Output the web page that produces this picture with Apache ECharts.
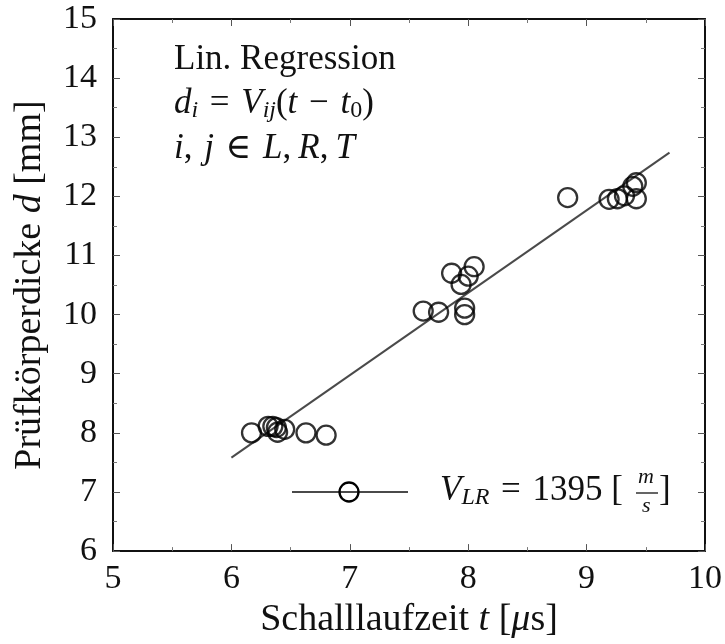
<!DOCTYPE html>
<html>
<head>
<meta charset="utf-8">
<script src="https://cdn.jsdelivr.net/npm/echarts@6/dist/echarts.min.js"></script>
<style>html,body{margin:0;padding:0;background:#fff;}#c{width:725px;height:644px;}</style>
</head>
<body>
<div id="c"></div>
<script>
// ---- data ----
const tValues = [6.17, 6.31, 6.35, 6.38, 6.39, 6.45, 6.63, 6.80,
                 7.62, 7.75, 7.97, 7.97, 7.86, 7.94, 8.00, 8.05,
                 8.84, 9.19, 9.26, 9.32, 9.42, 9.39, 9.42];
const dValues = [8.00, 8.11, 8.11, 8.09, 8.01, 8.06, 8.00, 7.96,
                 10.06, 10.04, 10.11, 10.00, 10.70, 10.51, 10.65, 10.81,
                 11.98, 11.95, 11.96, 12.01, 11.96, 12.17, 12.23];
const regT = [6.0, 9.7];
const regD = [7.58, 12.74];
const xTicks = [5, 6, 7, 8, 9, 10];
const yTicks = [6, 7, 8, 9, 10, 11, 12, 13, 14, 15];

const FONT = '"Liberation Serif", "DejaVu Serif", serif';
const black = '#111';

const scatterData = tValues.map((t, i) => [t, dValues[i]]);
const regData = regT.map((t, i) => [t, regD[i]]);

const chart = echarts.init(document.getElementById('c'), null, {renderer: 'canvas'});

const axisCommon = {
  type: 'value',
  interval: 1,
  axisLine: {show: true, onZero: false, lineStyle: {color: black, width: 2}},
  axisTick: {show: true, inside: true, length: 7, lineStyle: {color: '#555', width: 1}},
  minorTick: {show: true, splitNumber: 2, length: 4, lineStyle: {color: '#777', width: 1}},
  splitLine: {show: false}
};

const SP = '\u2004';   // three-per-em space
const TH = '\u2009';   // thin space
const mathRich = {
  n: {fontSize: 35, fontFamily: FONT, fill: black, lineHeight: 38},
  i: {fontSize: 35, fontFamily: FONT, fontStyle: 'italic', fill: black, lineHeight: 38},
  s: {fontSize: 24, fontFamily: FONT, fontStyle: 'italic', fill: black, lineHeight: 16, verticalAlign: 'bottom'},
  s0: {fontSize: 24, fontFamily: FONT, fill: black, lineHeight: 16, verticalAlign: 'bottom'}
};

const option = {
  animation: false,
  backgroundColor: '#fff',
  grid: {left: 113, right: 19, top: 19, bottom: 92, containLabel: false},
  xAxis: [
    Object.assign({}, axisCommon, {
      min: xTicks[0], max: xTicks[xTicks.length - 1], position: 'bottom',
      axisLabel: {fontSize: 34, fontFamily: FONT, color: black, margin: 11},
      name: '{n|Schalllaufzeit }{i|t}{n| [}{i|μ}{n|s]}',
      nameLocation: 'middle', nameGap: 43,
      nameTextStyle: {
        fontSize: 38, fontFamily: FONT, color: black,
        rich: {
          n: {fontSize: 38, fontFamily: FONT, color: black},
          i: {fontSize: 38, fontFamily: FONT, fontStyle: 'italic', color: black}
        }
      }
    }),
    Object.assign({}, axisCommon, {
      min: xTicks[0], max: xTicks[xTicks.length - 1], position: 'top',
      axisLabel: {show: false}
    })
  ],
  yAxis: [
    Object.assign({}, axisCommon, {
      min: yTicks[0], max: yTicks[yTicks.length - 1], position: 'left',
      axisLabel: {fontSize: 34, fontFamily: FONT, color: black, margin: 16},
      name: '{n|Prüfkörperdicke }{i|d}{n| [mm]}',
      nameLocation: 'middle', nameGap: 64, nameRotate: 90,
      nameTextStyle: {
        fontSize: 38, fontFamily: FONT, color: black,
        rich: {
          n: {fontSize: 38, fontFamily: FONT, color: black},
          i: {fontSize: 38, fontFamily: FONT, fontStyle: 'italic', color: black}
        }
      }
    }),
    Object.assign({}, axisCommon, {
      min: yTicks[0], max: yTicks[yTicks.length - 1], position: 'right',
      axisLabel: {show: false}
    })
  ],
  series: [
    {
      type: 'line', name: 'regression', data: regData,
      xAxisIndex: 0, yAxisIndex: 0,
      symbol: 'none', lineStyle: {color: '#4a4a4a', width: 2}, z: 2, silent: true
    },
    {
      type: 'scatter', name: 'data', data: scatterData,
      xAxisIndex: 0, yAxisIndex: 0,
      symbol: 'circle', symbolSize: 19,
      itemStyle: {color: 'rgba(0,0,0,0)', borderColor: '#000', borderWidth: 2.3},
      z: 3, silent: true
    }
  ],
  graphic: [
    // annotation text
    {type: 'text', left: 174, top: 42, style: {text: 'Lin. Regression', font: '35px ' + FONT, fill: black}},
    {type: 'text', left: 174, top: 86, style: {
      text: '{i|d}{s|i}{n|' + SP + '=' + SP + '}{i|V}{s|ij}{n|(}{i|t}{n|' + SP + '−' + SP + '}{i|t}{s0|0}{n|)}',
      rich: mathRich
    }},
    {type: 'text', left: 174, top: 131, style: {
      text: '{i|i}{n|,' + SP + '}{i|j}{n|' + SP + '∈' + SP + '}{i|L}{n|,' + TH + '}{i|R}{n|,' + TH + '}{i|T}',
      rich: mathRich
    }},
    // legend
    {type: 'line', shape: {x1: 292, y1: 492, x2: 408, y2: 492}, style: {stroke: '#4a4a4a', lineWidth: 2}},
    {type: 'circle', shape: {cx: 349, cy: 492, r: 9.5}, style: {fill: 'rgba(0,0,0,0)', stroke: '#000', lineWidth: 2.3}},
    {type: 'text', left: 440, top: 473, style: {
      text: '{i|V}{s|LR}{n|' + SP + '=' + SP + '1395 [}',
      rich: mathRich
    }},
    {type: 'text', left: 638, top: 466, style: {text: 'm', font: 'italic 22px ' + FONT, fill: black}},
    {type: 'line', shape: {x1: 636, y1: 493, x2: 658, y2: 493}, style: {stroke: black, lineWidth: 1.3}},
    {type: 'text', left: 642, top: 495, style: {text: 's', font: 'italic 22px ' + FONT, fill: black}},
    {type: 'text', left: 659, top: 473, style: {text: ']', font: '35px ' + FONT, fill: black}}
  ]
};

chart.setOption(option);
</script>
</body>
</html>
